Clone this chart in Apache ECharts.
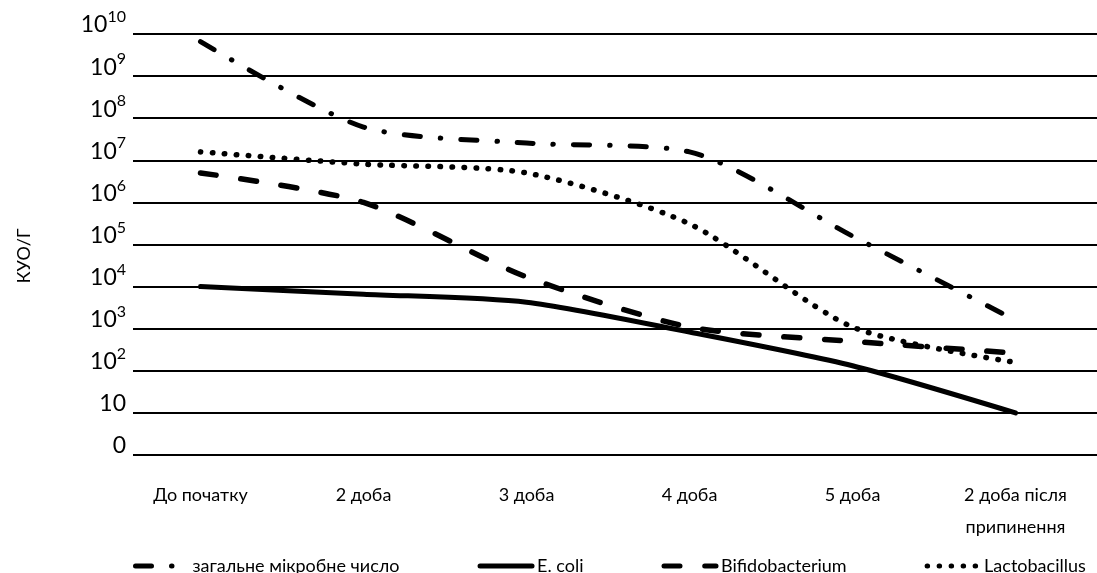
<!DOCTYPE html>
<html>
<head>
<meta charset="utf-8">
<script src="https://cdn.jsdelivr.net/npm/echarts@6/dist/echarts.min.js"></script>
<style>
  html, body { margin: 0; padding: 0; background: #fff; }
  #chart { width: 1097px; height: 573px; }
</style>
</head>
<body>
<div id="chart"></div>
<script>
// дані (показник степеня 10, КУО/г)
var categories = ['До початку', '2 доба', '3 доба', '4 доба', '5 доба', '2 доба після\nприпинення'];
var totalCount = [9.82, 7.79, 7.41, 7.2, 5.2, 3.2];
var eColi = [4.0, 3.82, 3.63, 2.92, 2.12, 1.0];
var bifido = [6.7, 6.0, 4.23, 3.04, 2.7, 2.42];
var lacto = [7.2, 6.91, 6.7, 5.49, 3.04, 2.2];

var FONT = 'Lato';

// підпис осі Y: 0, 10, 10², ... 10¹⁰
function tickLabel(v) {
  if (v === 0) return '{b|0}';
  if (v === 1) return '{b|10}';
  return '{b|10}{s|' + v + '}';
}

function lineSeries(name, data, width, dash) {
  return {
    name: name,
    type: 'line',
    xAxisIndex: 1,
    yAxisIndex: 1,
    data: data,
    smooth: 0.25,
    symbol: 'none',
    lineStyle: {
      color: '#000',
      width: width,
      type: dash,
      cap: 'round',
      join: 'round',
    },
    itemStyle: { color: '#000' },
  };
}

var option = {
  backgroundColor: '#fff',
  animation: false,
  grid: [
    // сітка з підписами осі Y
    { left: 133, right: 0, top: 34, height: 421 },
    // сітка для ліній
    { left: 119, width: 985, top: 34, height: 421 },
  ],
  xAxis: [
    { type: 'category', gridIndex: 0, data: categories, show: false },
    {
      type: 'category',
      gridIndex: 1,
      data: categories,
      boundaryGap: true,
      axisLine: { show: false },
      axisTick: { show: false },
      axisLabel: {
        margin: 24,
        color: '#000',
        fontFamily: FONT,
        fontSize: 18,
        lineHeight: 32,
        interval: 0,
      },
    },
  ],
  yAxis: [
    {
      type: 'value',
      gridIndex: 0,
      min: 0,
      max: 10,
      interval: 1,
      axisLine: { show: false },
      axisTick: { show: false },
      splitLine: { show: true, lineStyle: { color: '#000', width: 2 } },
      axisLabel: {
        margin: 7,
        verticalAlign: 'bottom',
        formatter: tickLabel,
        rich: {
          b: { fontFamily: FONT, fontSize: 23, lineHeight: 18, color: '#000' },
          s: { fontFamily: FONT, fontSize: 16, height: 2, lineHeight: 2, verticalAlign: 'top', color: '#000' },
        },
      },
    },
    {
      type: 'value',
      gridIndex: 1,
      min: 0,
      max: 10,
      interval: 1,
      show: false,
      splitLine: { show: false },
    },
  ],
  legend: {
    left: 128,
    top: 552,
    itemWidth: 52,
    itemHeight: 14,
    itemGap: 78,
    itemStyle: { opacity: 0 },
    lineStyle: { width: 5, cap: 'round' },
    textStyle: { color: '#000', fontFamily: FONT, fontSize: 18 },
    data: ['загальне мікробне число', 'E. coli', 'Bifidobacterium', 'Lactobacillus'],
  },
  graphic: [
    {
      type: 'text',
      x: 24,
      y: 256,
      rotation: Math.PI / 2,
      style: {
        text: 'КУО/Г',
        fill: '#000',
        font: '18px ' + FONT,
        align: 'center',
        verticalAlign: 'middle',
      },
    },
  ],
  series: [
    lineSeries('загальне мікробне число', totalCount, 5, [16, 20, 0.5, 20]),
    lineSeries('E. coli', eColi, 5, 'solid'),
    lineSeries('Bifidobacterium', bifido, 5.5, [16, 24.7]),
    lineSeries('Lactobacillus', lacto, 5.5, [0.5, 11.5]),
  ],
};

var myChart = echarts.init(document.getElementById('chart'));
myChart.setOption(option);
</script>
</body>
</html>
